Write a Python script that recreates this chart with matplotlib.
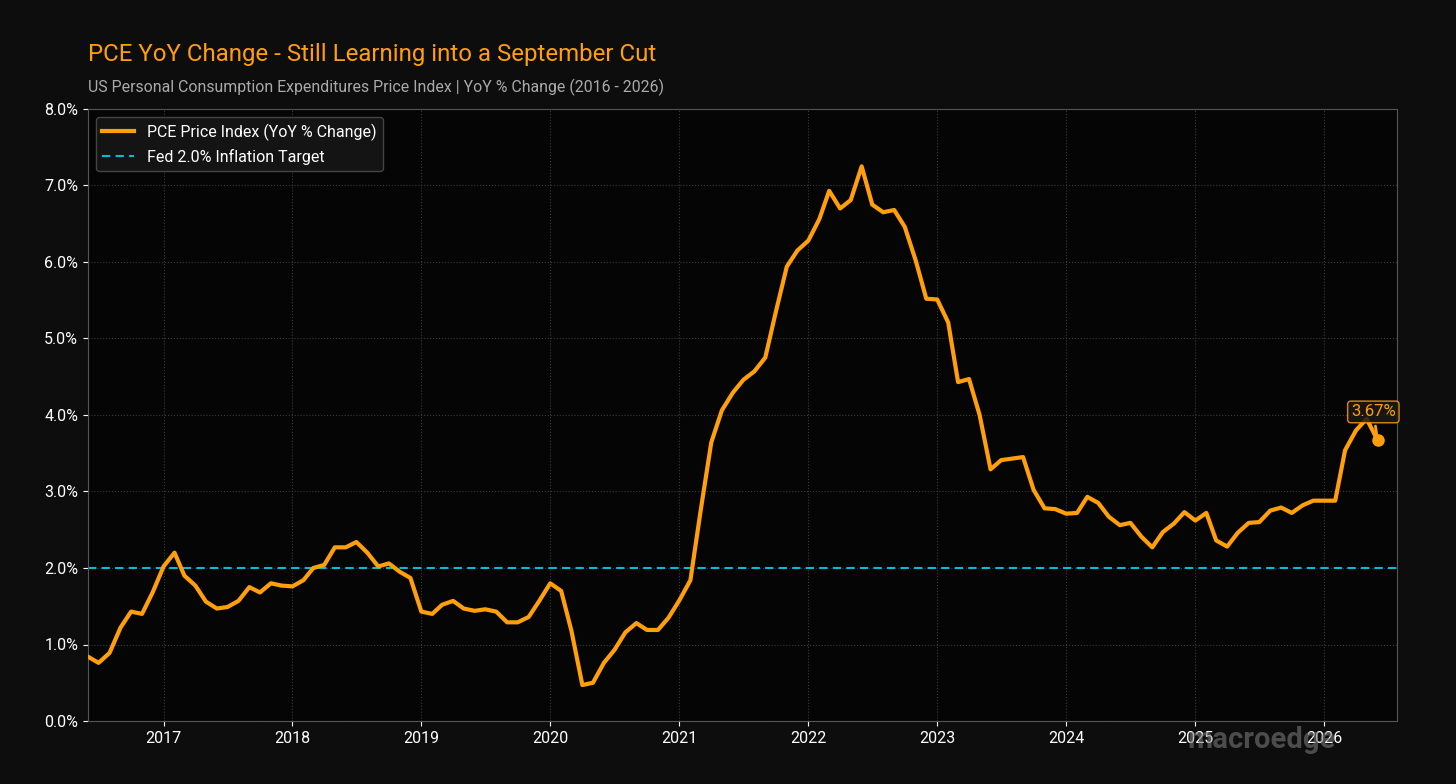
import matplotlib.pyplot as plt
import matplotlib.dates as mdates
import matplotlib.ticker as mticker
import pandas as pd

plt.rcParams['font.family'] = ['Roboto', 'DejaVu Sans']

start = '2016-06-01'
pce = [0.84, 0.76, 0.89, 1.22, 1.43, 1.40, 1.68,
       2.02, 2.20, 1.90, 1.77, 1.56, 1.47, 1.49, 1.57, 1.75, 1.68, 1.80, 1.77,
       1.76, 1.84, 2.00, 2.04, 2.27, 2.27, 2.34, 2.20, 2.02, 2.06, 1.95, 1.87,
       1.43, 1.40, 1.52, 1.57, 1.47, 1.44, 1.46, 1.43, 1.29, 1.29, 1.36, 1.57,
       1.80, 1.70, 1.18, 0.47, 0.50, 0.76, 0.93, 1.16, 1.28, 1.19, 1.19, 1.35,
       1.58, 1.84, 2.72, 3.64, 4.06, 4.29, 4.46, 4.57, 4.75, 5.35, 5.94, 6.15,
       6.28, 6.56, 6.93, 6.70, 6.81, 7.25, 6.75, 6.65, 6.68, 6.46, 6.02, 5.52,
       5.51, 5.21, 4.43, 4.47, 4.00, 3.29, 3.41, 3.43, 3.45, 3.02, 2.78, 2.77,
       2.71, 2.72, 2.93, 2.85, 2.67, 2.56, 2.59, 2.41, 2.27, 2.47, 2.58, 2.73,
       2.62, 2.72, 2.36, 2.28, 2.46, 2.59, 2.60, 2.75, 2.79, 2.72, 2.82, 2.88,
       2.88, 2.88, 3.54, 3.80, 3.95, 3.67]
dates = pd.date_range(start, periods=len(pce), freq='MS')
target = 2.0

orange = '#ff9f0a'
cyan = '#00bcd4'
bg = '#0d0d0d'

fig = plt.figure(figsize=(14.56, 7.84), dpi=100, facecolor=bg)
ax = fig.add_axes([88/1456, 1-721/784, (1397-88)/1456, (721-109)/784])
ax.set_facecolor('#050505')

ax.plot(dates, pce, color=orange, lw=3, label='PCE Price Index (YoY % Change)', zorder=3)
ax.axhline(target, color=cyan, lw=1.5, ls='--', dashes=(4, 2.5),
           label='Fed 2.0% Inflation Target', zorder=2)
ax.plot(dates[-1], pce[-1], 'o', color=orange, ms=8, zorder=4)
ax.annotate(f'{pce[-1]:.2f}%', xy=(dates[-1], pce[-1]),
            xytext=(dates[-1] - pd.Timedelta(days=12), pce[-1] + 0.37),
            ha='center', va='center', color=orange, fontsize=12,
            bbox=dict(boxstyle='round,pad=0.2', fc='#1c1a15', ec=orange, lw=1, alpha=0.85),
            arrowprops=dict(arrowstyle='-', color=orange, lw=2), zorder=5)

ax.set_ylim(0, 8)
ax.set_xlim(pd.Timestamp('2016-06-01'), pd.Timestamp('2026-07-26'))
ax.yaxis.set_major_locator(mticker.MultipleLocator(1))
ax.yaxis.set_major_formatter(mticker.FuncFormatter(lambda v, p: f'{v:.1f}%'))
ax.xaxis.set_major_locator(mdates.YearLocator())
ax.xaxis.set_major_formatter(mdates.DateFormatter('%Y'))
ax.tick_params(colors='white', labelsize=11.5)
ax.grid(True, color='#3a3a3a', ls=':', lw=0.8)
for s in ax.spines.values():
    s.set_color('#555555')

leg = ax.legend(loc='upper left', fontsize=11.5, facecolor='#141414',
                edgecolor='#444444', labelcolor='white', framealpha=1)

fig.text(88/1456, 1-55/784, 'PCE YoY Change - Still Learning into a September Cut',
         color=orange, fontsize=17.3, va='center')
fig.text(88/1456, 1-87/784,
         'US Personal Consumption Expenditures Price Index | YoY % Change (2016 - 2026)',
         color='#aaaaaa', fontsize=11.4, va='center')
fig.text(1262/1456, 1-740/784, 'macroedge', color='#777777', alpha=0.6,
         fontsize=21, fontweight='bold', ha='center', va='center')

fig.savefig('out.png', dpi=100, facecolor=bg)
